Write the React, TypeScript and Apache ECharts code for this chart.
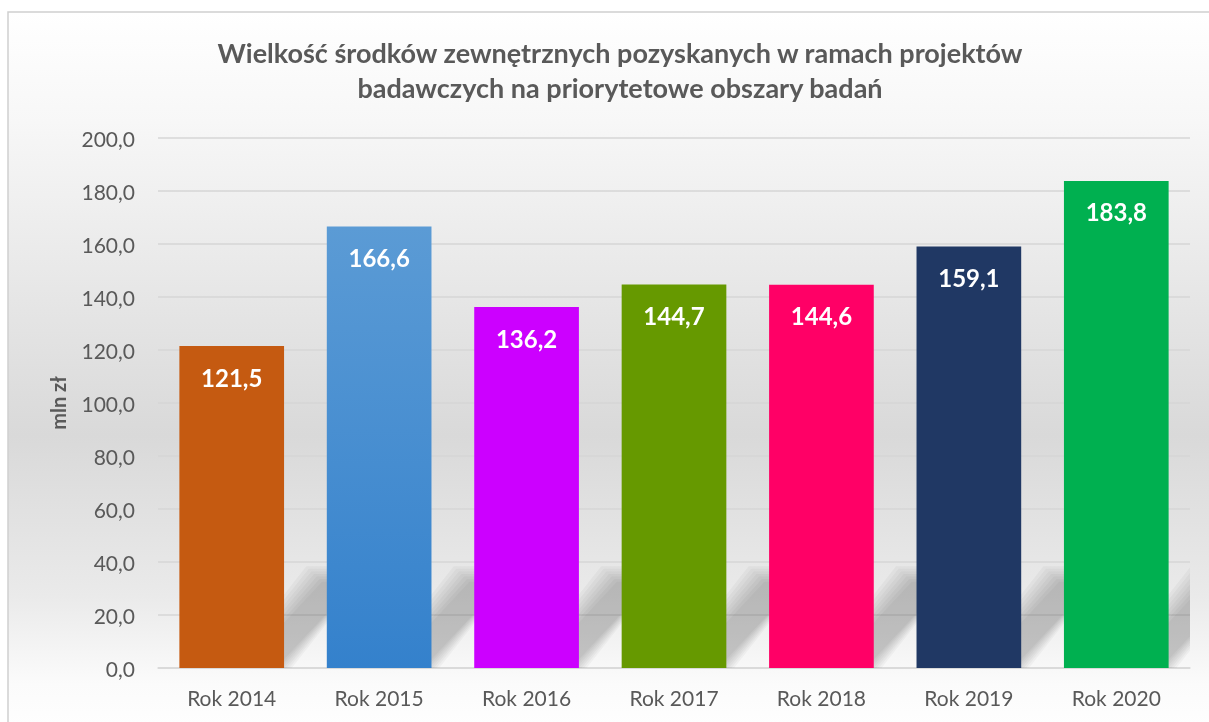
import React, { useEffect, useRef } from "react";
import * as echarts from "echarts";

const categories = ["Rok 2014", "Rok 2015", "Rok 2016", "Rok 2017", "Rok 2018", "Rok 2019", "Rok 2020"];
const values = [121.5, 166.6, 136.2, 144.7, 144.6, 159.1, 183.8];
const barColors: any[] = [
  "#C55A11",
  { type: "linear", x: 0, y: 0, x2: 0, y2: 1, colorStops: [{ offset: 0, color: "#5B9BD5" }, { offset: 1, color: "#3481CC" }] },
  "#CC00FF",
  "#669900",
  "#FF0066",
  "#203864",
  "#00B050",
];
const titleText = "Wielkość środków zewnętrznych pozyskanych w ramach projektów\nbadawczych na priorytetowe obszary badań";
const yAxisName = "mln zł";

const FONT = "Lato";
const BAR_RATIO = 0.71;

export default function App() {
  const ref = useRef<HTMLDivElement>(null);
  useEffect(() => {
    if (!ref.current) return;
    const chart = echarts.init(ref.current, null, { renderer: "svg" });
    chart.setOption({
      animation: false,
      graphic: [
        {
          type: "rect",
          z: -10,
          shape: { x: 8, y: 12, width: 1215, height: 730 },
          style: {
            fill: {
              type: "linear", x: 0, y: 0, x2: 0, y2: 1,
              colorStops: [
                { offset: 0, color: "#ffffff" },
                { offset: 0.15, color: "#f7f7f7" },
                { offset: 0.58, color: "#d9d9d9" },
                { offset: 0.8, color: "#eaeaea" },
                { offset: 0.92, color: "#fbfbfb" },
                { offset: 1, color: "#ffffff" },
              ],
            },
            stroke: "#d0d0d0",
            lineWidth: 1.5,
          },
          silent: true,
        },
      ],
      title: {
        text: titleText,
        left: 615,
        textAlign: "center",
        top: 30,
        textStyle: {
          fontFamily: FONT,
          fontSize: 27,
          fontWeight: "bold",
          color: "#595959",
          lineHeight: 35,
        },
      },
      grid: { left: 158, right: 19, top: 138, bottom: 54, containLabel: false },
      xAxis: {
        type: "category",
        data: categories,
        axisTick: { show: false },
        axisLine: { lineStyle: { color: "#d9d9d9", width: 1.5 } },
        axisLabel: { color: "#595959", fontFamily: FONT, fontSize: 21, margin: 19 },
      },
      yAxis: {
        type: "value",
        min: 0,
        max: 200,
        interval: 20,
        name: yAxisName,
        nameLocation: "middle",
        nameRotate: 90,
        nameGap: 90,
        nameTextStyle: { fontFamily: FONT, fontSize: 20, fontWeight: "bold", color: "#595959" },
        axisLine: { show: false },
        axisTick: { show: false },
        splitLine: { lineStyle: { color: "#d6d6d6", width: 1.5 } },
        axisLabel: {
          color: "#595959",
          fontFamily: FONT,
          fontSize: 21,
          margin: 23,
          formatter: (v: number) => v.toFixed(1).replace(".", ","),
        },
      },
      series: [
        {
          type: "custom",
          z: 1,
          clip: true,
          silent: true,
          data: values.map((v, i) => [i, v]),
          renderItem: (params: any, api: any) => {
            const base = api.coord([api.value(0), 0]);
            const bw = api.size([1, 0])[0] * BAR_RATIO;
            const xr = base[0] + bw / 2;
            const y0 = base[1];
            const w = 50;
            const h = 94;
            const d = 80;
            const layers = 7;
            const children = [];
            for (let k = 0; k < layers; k++) {
              const e = (k - (layers - 1) / 2) * 2.6;
              children.push({
                type: "polygon",
                shape: {
                  points: [
                    [xr - w - e, y0],
                    [xr + e, y0],
                    [xr + d + e, y0 - h - e],
                    [xr - w + d - e, y0 - h - e],
                  ],
                },
                style: { fill: "rgba(0,0,0,0.031)" },
              });
            }
            return { type: "group", children };
          },
        },
        {
          type: "bar",
          z: 2,
          barWidth: "71%",
          data: values.map((v, i) => ({ value: v, itemStyle: { color: barColors[i] } })),
          label: {
            show: true,
            position: "insideTop",
            distance: 19,
            color: "#ffffff",
            fontFamily: FONT,
            fontSize: 24,
            fontWeight: "bold",
            formatter: (p: any) => p.value.toFixed(1).replace(".", ","),
          },
        },
      ],
    });
    return () => chart.dispose();
  }, []);
  return <div ref={ref} style={{ position: "fixed", left: 0, top: 0, width: 1209, height: 722 }} />;
}
